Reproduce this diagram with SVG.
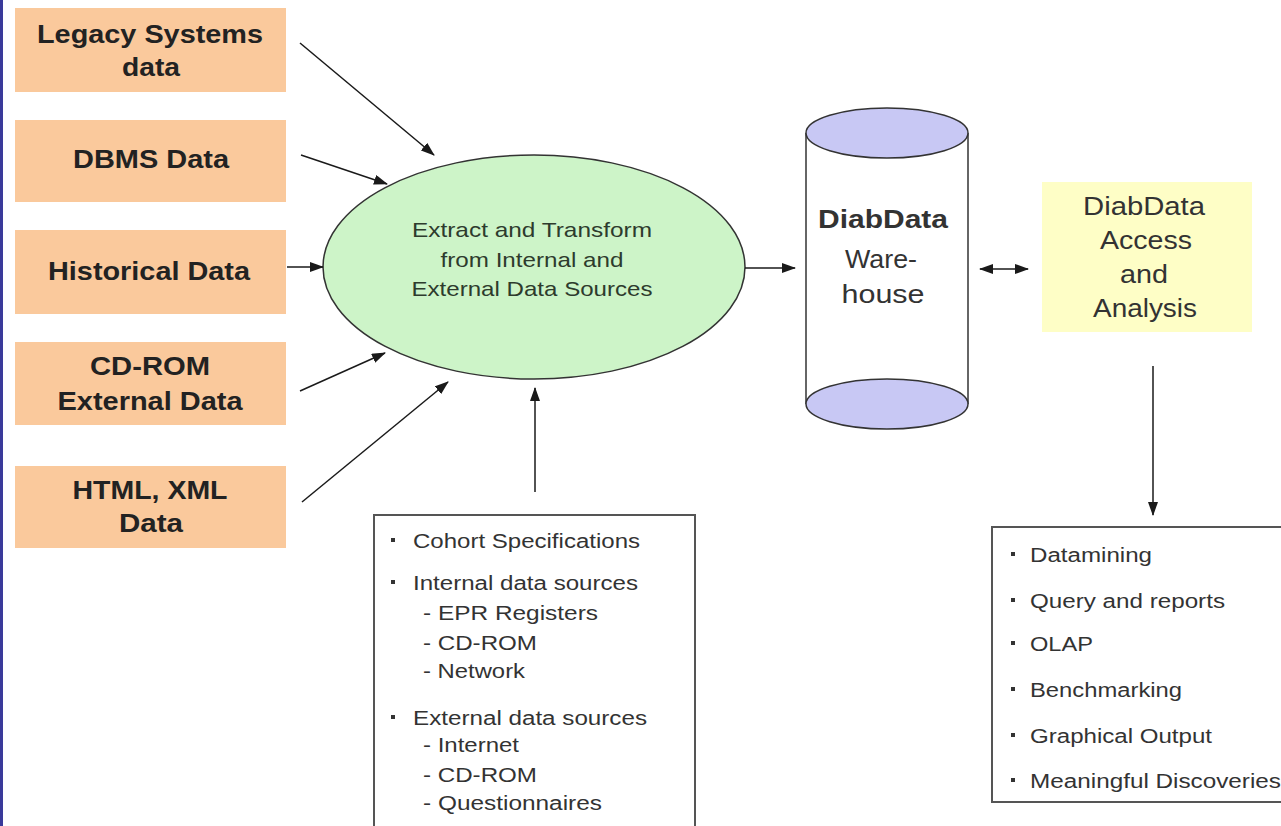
<svg xmlns="http://www.w3.org/2000/svg" width="1281" height="826" viewBox="0 0 1281 826">
<defs>
<marker id="ah" markerWidth="14" markerHeight="10" refX="13" refY="5" orient="auto" markerUnits="userSpaceOnUse">
<path d="M0,0 L14,5 L0,10 Z" fill="#1a1a1a"/>
</marker>
<marker id="ahs" markerWidth="14" markerHeight="10" refX="1" refY="5" orient="auto" markerUnits="userSpaceOnUse">
<path d="M14,0 L0,5 L14,10 Z" fill="#1a1a1a"/>
</marker>
<style>
.src{fill:#fac99c}
.srct{font-family:"Liberation Sans",Arial,sans-serif;font-weight:bold;font-size:25px;fill:#222;text-anchor:middle}
.et{font-family:"Liberation Sans",Arial,sans-serif;font-size:21px;fill:#2d3b2d;text-anchor:middle}
.ct{font-family:"Liberation Sans",Arial,sans-serif;font-size:25px;fill:#333;text-anchor:middle}
.lt{font-family:"Liberation Sans",Arial,sans-serif;font-size:20px;fill:#333}
.box{fill:#fff;stroke:#555;stroke-width:2}
.con{stroke:#1a1a1a;stroke-width:1.5;fill:none}
.bul{fill:#333}
</style>
</defs>
<rect x="0" y="0" width="1281" height="826" fill="#fff"/>
<rect x="0" y="0" width="3" height="826" fill="#3a3a9a"/>

<g id="legacy">
<rect class="src" x="15" y="8" width="271" height="84"/>
<text class="srct" x="150" y="43" textLength="226" lengthAdjust="spacingAndGlyphs">Legacy Systems</text>
<text class="srct" x="151" y="76" textLength="58" lengthAdjust="spacingAndGlyphs">data</text>
</g>
<g id="dbms">
<rect class="src" x="15" y="120" width="271" height="82"/>
<text class="srct" x="151" y="168" textLength="156" lengthAdjust="spacingAndGlyphs">DBMS Data</text>
</g>
<g id="historical">
<rect class="src" x="15" y="230" width="271" height="84"/>
<text class="srct" x="149" y="280" textLength="202" lengthAdjust="spacingAndGlyphs">Historical Data</text>
</g>
<g id="cdrom">
<rect class="src" x="15" y="342" width="271" height="83"/>
<text class="srct" x="150" y="375" textLength="120" lengthAdjust="spacingAndGlyphs">CD-ROM</text>
<text class="srct" x="150" y="410" textLength="185" lengthAdjust="spacingAndGlyphs">External Data</text>
</g>
<g id="html">
<rect class="src" x="15" y="466" width="271" height="82"/>
<text class="srct" x="150" y="499" textLength="155" lengthAdjust="spacingAndGlyphs">HTML, XML</text>
<text class="srct" x="151" y="532" textLength="64" lengthAdjust="spacingAndGlyphs">Data</text>
</g>

<g id="extract">
<ellipse cx="534" cy="267" rx="211" ry="112" fill="#cdf4c8" stroke="#333" stroke-width="1.5"/>
<text class="et" x="532" y="237" textLength="240" lengthAdjust="spacingAndGlyphs">Extract and Transform</text>
<text class="et" x="532" y="267" textLength="183" lengthAdjust="spacingAndGlyphs">from Internal and</text>
<text class="et" x="532" y="296" textLength="241" lengthAdjust="spacingAndGlyphs">External Data Sources</text>
</g>

<g id="warehouse">
<rect x="806" y="133" width="162" height="271" fill="#fff"/>
<line x1="806" y1="133" x2="806" y2="404" stroke="#333" stroke-width="1.5"/>
<line x1="968" y1="133" x2="968" y2="404" stroke="#333" stroke-width="1.5"/>
<ellipse cx="887" cy="133" rx="81" ry="25" fill="#c8c8f4" stroke="#333" stroke-width="1.5"/>
<ellipse cx="887" cy="404" rx="81" ry="25" fill="#c8c8f4" stroke="#333" stroke-width="1.5"/>
<text class="ct" x="883" y="228" font-weight="bold" fill="#222" textLength="130" lengthAdjust="spacingAndGlyphs">DiabData</text>
<text class="ct" x="881" y="268" textLength="72" lengthAdjust="spacingAndGlyphs">Ware-</text>
<text class="ct" x="883" y="303" textLength="83" lengthAdjust="spacingAndGlyphs">house</text>
</g>

<g id="access">
<rect x="1042" y="182" width="210" height="150" fill="#fefec6"/>
<text class="ct" x="1144" y="215" textLength="122" lengthAdjust="spacingAndGlyphs">DiabData</text>
<text class="ct" x="1146" y="249" textLength="92" lengthAdjust="spacingAndGlyphs">Access</text>
<text class="ct" x="1144" y="283" textLength="48" lengthAdjust="spacingAndGlyphs">and</text>
<text class="ct" x="1145" y="317" textLength="104" lengthAdjust="spacingAndGlyphs">Analysis</text>
</g>

<g id="sources-list">
<rect class="box" x="374" y="515" width="321" height="320"/>
<rect class="bul" x="391" y="538" width="4" height="4"/>
<text class="lt" x="413" y="548" textLength="227" lengthAdjust="spacingAndGlyphs">Cohort Specifications</text>
<rect class="bul" x="391" y="580" width="4" height="4"/>
<text class="lt" x="413" y="590" textLength="225" lengthAdjust="spacingAndGlyphs">Internal data sources</text>
<text class="lt" x="423" y="620" textLength="175" lengthAdjust="spacingAndGlyphs">- EPR Registers</text>
<text class="lt" x="423" y="650" textLength="114" lengthAdjust="spacingAndGlyphs">- CD-ROM</text>
<text class="lt" x="423" y="678" textLength="102" lengthAdjust="spacingAndGlyphs">- Network</text>
<rect class="bul" x="391" y="715" width="4" height="4"/>
<text class="lt" x="413" y="725" textLength="234" lengthAdjust="spacingAndGlyphs">External data sources</text>
<text class="lt" x="423" y="752" textLength="96" lengthAdjust="spacingAndGlyphs">- Internet</text>
<text class="lt" x="423" y="782" textLength="114" lengthAdjust="spacingAndGlyphs">- CD-ROM</text>
<text class="lt" x="423" y="810" textLength="179" lengthAdjust="spacingAndGlyphs">- Questionnaires</text>
</g>

<g id="analysis-list">
<rect class="box" x="992" y="527" width="300" height="275"/>
<rect class="bul" x="1011" y="552" width="4" height="4"/>
<text class="lt" x="1030" y="562" textLength="122" lengthAdjust="spacingAndGlyphs">Datamining</text>
<rect class="bul" x="1011" y="598" width="4" height="4"/>
<text class="lt" x="1030" y="608" textLength="195" lengthAdjust="spacingAndGlyphs">Query and reports</text>
<rect class="bul" x="1011" y="641" width="4" height="4"/>
<text class="lt" x="1030" y="651" textLength="63" lengthAdjust="spacingAndGlyphs">OLAP</text>
<rect class="bul" x="1011" y="687" width="4" height="4"/>
<text class="lt" x="1030" y="697" textLength="152" lengthAdjust="spacingAndGlyphs">Benchmarking</text>
<rect class="bul" x="1011" y="733" width="4" height="4"/>
<text class="lt" x="1030" y="743" textLength="182" lengthAdjust="spacingAndGlyphs">Graphical Output</text>
<rect class="bul" x="1011" y="778" width="4" height="4"/>
<text class="lt" x="1030" y="788" textLength="251" lengthAdjust="spacingAndGlyphs">Meaningful Discoveries</text>
</g>

<g id="connectors">
<line class="con" x1="300" y1="43" x2="434" y2="155" marker-end="url(#ah)"/>
<line class="con" x1="301" y1="155" x2="387" y2="184" marker-end="url(#ah)"/>
<line class="con" x1="287" y1="267" x2="323" y2="267" marker-end="url(#ah)"/>
<line class="con" x1="300" y1="391" x2="385" y2="353" marker-end="url(#ah)"/>
<line class="con" x1="302" y1="502" x2="448" y2="382" marker-end="url(#ah)"/>
<line class="con" x1="535" y1="492" x2="535" y2="388" marker-end="url(#ah)"/>
<line class="con" x1="745" y1="268" x2="795" y2="268" marker-end="url(#ah)"/>
<line class="con" x1="980" y1="269" x2="1028" y2="269" marker-start="url(#ahs)" marker-end="url(#ah)"/>
<line class="con" x1="1153" y1="366" x2="1153" y2="515" marker-end="url(#ah)"/>
</g>
</svg>
